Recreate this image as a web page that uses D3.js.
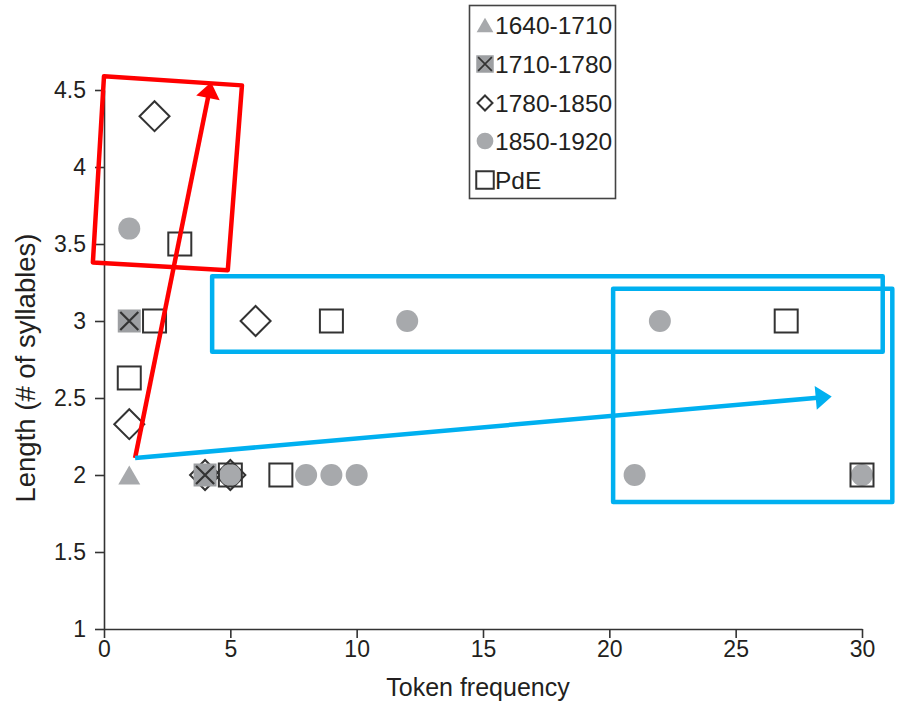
<!DOCTYPE html>
<html>
<head>
<meta charset="utf-8">
<script src="https://cdn.jsdelivr.net/npm/d3@7"></script>
<style>
  html, body { margin: 0; padding: 0; background: #fff; }
  svg { display: block; }
  text { font-family: "Liberation Sans", Arial, Helvetica, sans-serif; fill: #231f20; }
</style>
</head>
<body>
<svg id="chart" width="901" height="707"></svg>
<script>
// ---- data ----
const seriesNames = ["1640-1710", "1710-1780", "1780-1850", "1850-1920", "PdE"];
const s1640 = [[1, 2]];
const s1710 = [[1, 3], [4, 2]];
const s1780 = [[2, 4.33], [6, 3], [1, 2.33], [4, 2], [5, 2]];
const s1850 = [[1, 3.6], [12, 3], [22, 3], [4, 2], [5, 2], [8, 2], [9, 2], [10, 2], [21, 2], [30, 2]];
const sPdE = [[3, 3.5], [2, 3], [9, 3], [27, 3], [1, 2.63], [5, 2], [7, 2], [30, 2]];
const xTicks = [0, 5, 10, 15, 20, 25, 30];
const yTicks = [1, 1.5, 2, 2.5, 3, 3.5, 4, 4.5];
const xTitle = "Token frequency";
const yTitle = "Length (# of syllables)";

// annotation shapes, in data units
const redBox = [[0.0, 4.59], [5.46, 4.53], [4.9, 3.33], [-0.44, 3.38]];
const arrowStart = [1.23, 2.11];
const redArrowTip = [4.24, 4.55];
const blueArrowTip = [28.8, 2.51];
const blueBox1 = [[4.28, 3.29], [30.82, 2.80]];
const blueBox2 = [[20.15, 3.21], [31.2, 1.825]];

// ---- layout ----
const svg = d3.select("#chart");
const x = d3.scaleLinear().domain([0, 30]).range([104, 862]);
const y = d3.scaleLinear().domain([1, 4.5]).range([629, 90]);
const ink = "#333333";
const gray = "#a7a9ac";

// axes
const gx = svg.append("g").attr("transform", `translate(0,${y(1)})`)
  .call(d3.axisBottom(x).tickValues(xTicks).tickFormat(d3.format("d")).tickSize(9).tickSizeOuter(0).tickPadding(3));
const gy = svg.append("g").attr("transform", `translate(${x(0)},0)`)
  .call(d3.axisLeft(y).tickValues(yTicks).tickFormat(d => String(d)).tickSize(9).tickSizeOuter(0).tickPadding(9));
[gx, gy].forEach(g => {
  g.select(".domain").attr("stroke", ink).attr("stroke-width", 1.6);
  g.selectAll(".tick line").attr("stroke", ink).attr("stroke-width", 1.6);
  g.selectAll(".tick text").attr("fill", "#231f20").style("font-size", "23px")
    .style("font-family", '"Liberation Sans", Arial, sans-serif');
});

svg.append("text").attr("x", 478).attr("y", 696).attr("text-anchor", "middle")
  .style("font-size", "25px").text(xTitle);
svg.append("text").attr("transform", "translate(35,368) rotate(-90)").attr("text-anchor", "middle")
  .style("font-size", "27.5px").text(yTitle);

// ---- symbols ----
function drawSymbol(g, type, cx, cy, big) {
  const k = big ? 1 : 0.76;
  if (type === "triangle") {
    const w = 22 * k, h = 19 * k;
    g.append("path").attr("d", `M${cx},${cy - h / 2}L${cx + w / 2},${cy + h / 2}L${cx - w / 2},${cy + h / 2}Z`)
      .attr("fill", gray);
  } else if (type === "xsquare") {
    const s = 23 * k;
    g.append("rect").attr("x", cx - s / 2).attr("y", cy - s / 2).attr("width", s).attr("height", s)
      .attr("fill", "#9d9fa2");
    const a = s / 2 - 2.5 * k;
    g.append("path").attr("d", `M${cx - a},${cy - a}L${cx + a},${cy + a}M${cx + a},${cy - a}L${cx - a},${cy + a}`)
      .attr("stroke", ink).attr("stroke-width", 2.2 * k).attr("fill", "none");
  } else if (type === "diamond") {
    const r = big ? 15 : 7.5;
    g.append("path").attr("d", `M${cx},${cy - r}L${cx + r},${cy}L${cx},${cy + r}L${cx - r},${cy}Z`)
      .attr("fill", "none").attr("stroke", ink).attr("stroke-width", 2);
  } else if (type === "circle") {
    g.append("circle").attr("cx", cx).attr("cy", cy).attr("r", 11 * k).attr("fill", gray);
  } else if (type === "square") {
    const s = 23 * k;
    g.append("rect").attr("x", cx - s / 2).attr("y", cy - s / 2).attr("width", s).attr("height", s)
      .attr("fill", "none").attr("stroke", ink).attr("stroke-width", 2);
  }
}

const series = [
  { name: seriesNames[0], type: "triangle", data: s1640 },
  { name: seriesNames[1], type: "xsquare", data: s1710 },
  { name: seriesNames[2], type: "diamond", data: s1780 },
  { name: seriesNames[3], type: "circle", data: s1850 },
  { name: seriesNames[4], type: "square", data: sPdE }
];
const drawOrder = [2, 3, 0, 1, 4];
const marks = svg.append("g");
drawOrder.forEach(i => {
  const s = series[i];
  const g = marks.append("g").attr("class", "series-" + i);
  s.data.forEach(d => drawSymbol(g, s.type, x(d[0]), y(d[1]), true));
});

// ---- legend ----
const lg = svg.append("g");
lg.append("rect").attr("x", 469.5).attr("y", 5.5).attr("width", 146).attr("height", 193)
  .attr("fill", "#fff").attr("stroke", "#444").attr("stroke-width", 1.6);
const rowY = [25, 64, 103, 141, 180];
series.forEach((s, i) => {
  drawSymbol(lg, s.type, 485, rowY[i], false);
  lg.append("text").attr("x", 495).attr("y", rowY[i] + 8.5).style("font-size", "24.5px").text(s.name);
});

// ---- annotations ----
const ann = svg.append("g").attr("fill", "none").attr("stroke-width", 4.5).attr("stroke-linejoin", "round");
const red = "#ff0000", blue = "#00b0f0";
ann.append("path").attr("d", "M" + redBox.map(p => `${x(p[0])},${y(p[1])}`).join("L") + "Z").attr("stroke", red);
[blueBox1, blueBox2].forEach(b => {
  ann.append("rect").attr("x", x(b[0][0])).attr("y", y(b[0][1]))
    .attr("width", x(b[1][0]) - x(b[0][0])).attr("height", y(b[1][1]) - y(b[0][1]))
    .attr("stroke", blue);
});
function arrow(from, to, color) {
  const x0 = x(from[0]), y0 = y(from[1]), x1 = x(to[0]), y1 = y(to[1]);
  const dx = x1 - x0, dy = y1 - y0, L = Math.hypot(dx, dy);
  const ux = dx / L, uy = dy / L, hl = 16, hw = 12;
  const bx = x1 - ux * hl, by = y1 - uy * hl;
  ann.append("line").attr("x1", x0).attr("y1", y0).attr("x2", bx + ux * 2).attr("y2", by + uy * 2)
    .attr("stroke", color).attr("stroke-linecap", "butt");
  ann.append("path").attr("d", `M${x1},${y1}L${bx - uy * hw},${by + ux * hw}L${bx + uy * hw},${by - ux * hw}Z`)
    .attr("fill", color).attr("stroke", "none");
}
arrow(arrowStart, redArrowTip, red);
arrow(arrowStart, blueArrowTip, blue);
</script>
</body>
</html>
